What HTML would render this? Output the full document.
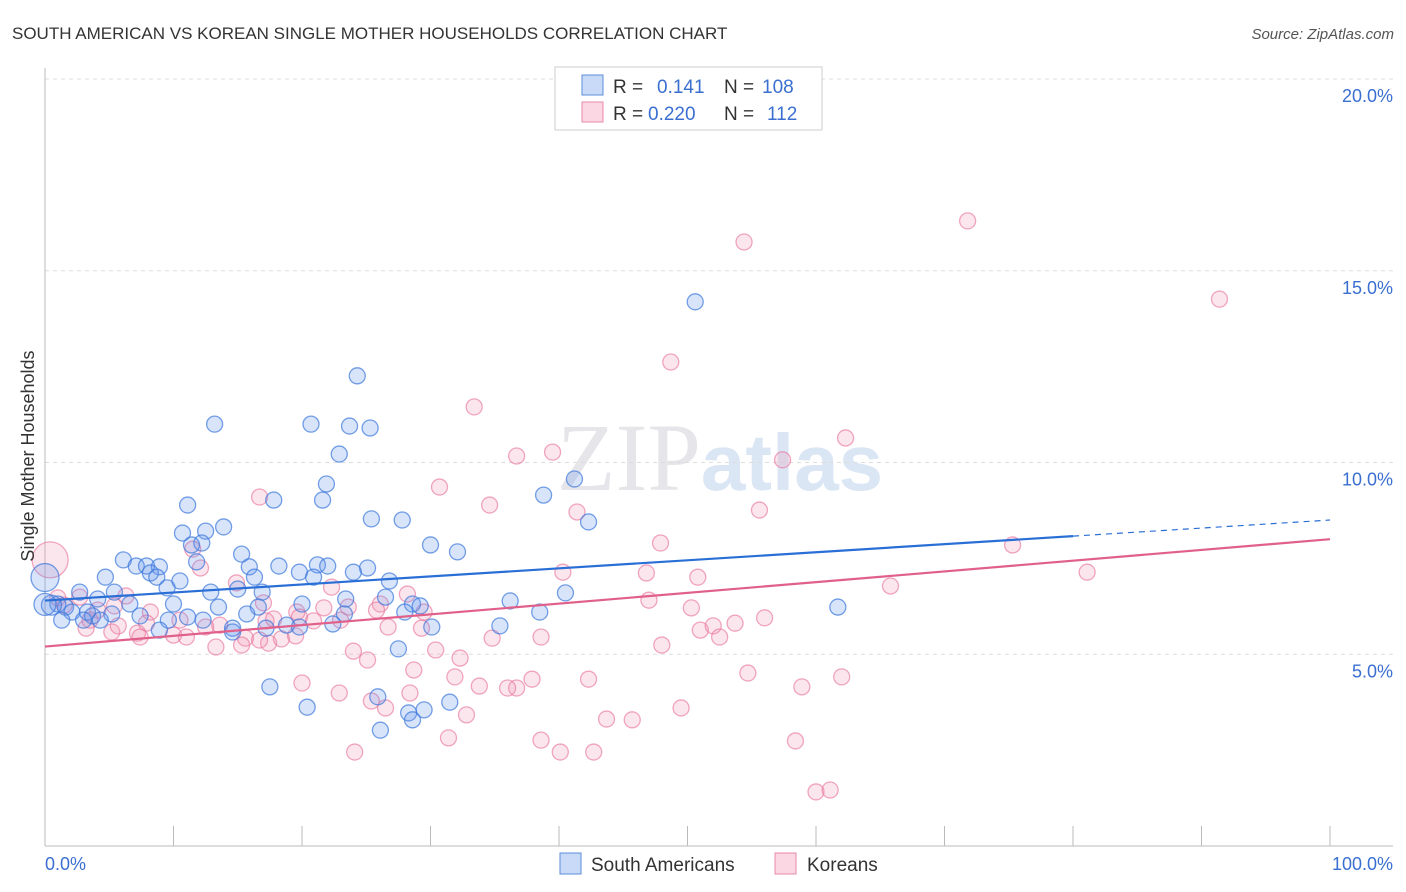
<!DOCTYPE html>
<html><head><meta charset="utf-8"><style>
body{margin:0;background:#fff;font-family:"Liberation Sans",sans-serif;}
svg{display:block}
</style></head><body>
<svg width="1406" height="892" xmlns="http://www.w3.org/2000/svg" font-family="Liberation Sans, sans-serif">
<text x="12" y="39" font-size="17" fill="#333">SOUTH AMERICAN VS KOREAN SINGLE MOTHER HOUSEHOLDS CORRELATION CHART</text>
<text x="1394" y="39" font-size="15" fill="#555" text-anchor="end" font-style="italic">Source: ZipAtlas.com</text>
<text x="720" y="490" font-size="96" text-anchor="middle" fill="#e6e6ea"><tspan font-family="Liberation Serif, serif">ZIP</tspan><tspan fill="#dbe6f5" font-weight="bold" font-size="80">atlas</tspan></text>
<g id="grid"></g>
<g id="axes"></g>
<g id="marks"></g>
<text transform="translate(34,456) rotate(-90)" font-size="18" fill="#333" text-anchor="middle">Single Mother Households</text>
<g>
<rect x="555" y="67" width="267" height="63" fill="#fff" stroke="#ccc"/>
<rect x="582" y="75" width="21" height="20" fill="rgba(100,149,237,0.35)" stroke="#5b8fd9"/>
<rect x="582" y="102" width="21" height="20" fill="rgba(240,140,175,0.35)" stroke="#e88aa8"/>
<text x="613" y="93" font-size="19" fill="#333">R = <tspan fill="#3a6fd1" x="657">0.141</tspan><tspan x="724">N = </tspan><tspan fill="#3a6fd1" x="762">108</tspan></text>
<text x="613" y="120" font-size="19" fill="#333">R = <tspan fill="#3a6fd1" x="648">0.220</tspan><tspan x="724">N = </tspan><tspan fill="#3a6fd1" x="767">112</tspan></text>
</g>
<g>
<rect x="560" y="853" width="21" height="21" fill="rgba(100,149,237,0.35)" stroke="#5b8fd9"/>
<text x="591" y="871" font-size="19" fill="#333">South Americans</text>
<rect x="775" y="853" width="21" height="21" fill="rgba(240,140,175,0.35)" stroke="#e88aa8"/>
<text x="807" y="871" font-size="19" fill="#333">Koreans</text>
</g>
</svg>
<script>
const yTicks=[5,10,15,20];
const yTickLabels=["5.0%","10.0%","15.0%","20.0%"];
const xTicks=[10,20,30,40,50,60,70,80,90,100];
const blueX=[50.6,24.3,13.2,20.7,23.7,25.3,22.9,21.9,11.1,17.8,21.6,38.8,41.2,25.4,27.8,42.3,13.9,10.7,12.5,12.2,11.4,30.0,32.1,15.3,6.1,7.1,7.9,8.9,15.9,18.2,21.2,22.0,25.1,11.8,4.7,8.2,8.7,10.5,16.3,19.8,20.9,24.0,26.8,2.7,5.4,9.5,12.9,15.0,16.9,4.1,6.6,10.0,13.5,16.6,20.0,23.4,26.5,28.6,29.2,36.2,40.5,61.7,1.0,1.6,2.1,3.3,3.7,5.2,7.4,11.1,15.7,23.3,28.0,38.5,1.3,3.0,4.3,9.6,12.3,14.6,17.2,18.8,19.8,22.4,30.1,35.4,14.6,8.9,17.5,20.4,25.9,28.3,29.5,31.5,26.1,28.6,27.5,0.5,0,0];
const blueY=[14.19,12.26,11.0,11.0,10.95,10.9,10.22,9.44,8.89,9.02,9.02,9.15,9.57,8.53,8.5,8.45,8.32,8.16,8.21,7.9,7.85,7.85,7.67,7.61,7.46,7.3,7.3,7.28,7.28,7.3,7.33,7.3,7.25,7.41,7.01,7.12,7.01,6.91,7.01,7.14,7.01,7.14,6.91,6.62,6.62,6.73,6.62,6.7,6.62,6.44,6.31,6.31,6.23,6.23,6.31,6.44,6.49,6.31,6.26,6.39,6.6,6.23,6.31,6.23,6.1,6.1,6.0,6.05,6.0,5.97,6.05,6.05,6.1,6.1,5.89,5.89,5.89,5.89,5.89,5.68,5.68,5.76,5.71,5.79,5.71,5.74,5.58,5.63,4.15,3.62,3.89,3.47,3.55,3.75,3.02,3.29,5.14,6.28,7.0,6.3];
const blueSize=[8,8,8,8,8,8,8,8,8,8,8,8,8,8,8,8,8,8,8,8,8,8,8,8,8,8,8,8,8,8,8,8,8,8,8,8,8,8,8,8,8,8,8,8,8,8,8,8,8,8,8,8,8,8,8,8,8,8,8,8,8,8,8,8,8,8,8,8,8,8,8,8,8,8,8,8,8,8,8,8,8,8,8,8,8,8,8,8,8,8,8,8,8,8,8,8,8,10,14,11];
const pinkX=[71.8,54.4,91.4,48.7,33.4,62.3,39.5,36.7,57.4,30.7,34.6,41.4,55.6,16.7,75.3,47.9,11.5,12.1,40.3,46.8,50.8,65.8,81.1,47.0,50.3,14.9,22.3,28.2,29.5,19.6,21.7,26.1,23.6,17.0,6.3,2.7,5.4,4.1,8.2,10.5,13.6,7.9,17.2,17.8,19.8,20.9,23.0,25.8,29.3,56.0,51.0,52.0,53.7,3.2,5.2,7.2,10.0,7.4,11.0,15.6,17.4,18.4,19.5,26.7,38.6,34.8,52.5,48.0,13.3,15.3,24.0,30.4,32.3,25.1,28.7,31.9,20.0,22.9,28.4,33.8,37.9,36.7,36.0,42.3,54.7,58.9,62.0,25.4,26.5,32.8,49.5,43.7,45.7,31.4,38.6,58.4,24.1,40.1,42.7,60.0,61.1,0.4,1.0,1.5,3.5,5.7,12.5,16.7];
const pinkY=[16.3,15.75,14.26,12.62,11.45,10.64,10.27,10.17,10.07,9.36,8.89,8.71,8.76,9.1,7.85,7.9,7.74,7.25,7.14,7.12,7.01,6.78,7.14,6.41,6.21,6.86,6.75,6.57,6.1,6.1,6.21,6.31,6.23,6.34,6.52,6.49,6.26,6.15,6.1,5.89,5.76,5.81,5.87,5.92,5.97,5.87,5.89,6.15,5.68,5.95,5.63,5.74,5.81,5.68,5.58,5.55,5.5,5.45,5.45,5.42,5.29,5.4,5.48,5.71,5.45,5.42,5.45,5.24,5.19,5.24,5.08,5.11,4.9,4.85,4.59,4.41,4.25,3.99,3.99,4.17,4.35,4.12,4.12,4.35,4.51,4.15,4.41,3.78,3.6,3.42,3.6,3.31,3.29,2.82,2.76,2.74,2.45,2.45,2.45,1.41,1.46,7.46,6.47,6.28,5.89,5.74,5.71,5.37];
const blueTrend=[6.4,8.5];
const pinkTrend=[5.2,8.0];
const NS='http://www.w3.org/2000/svg';
const X0=45,X1=1330,Y0=846,PY=38.35;
function sx(v){return X0+(X1-X0)*v/100;}
function sy(v){return Y0-v*PY;}
function mk(tag,attrs,parent){const e=document.createElementNS(NS,tag);for(const k in attrs)e.setAttribute(k,attrs[k]);parent.appendChild(e);return e;}
const grid=document.getElementById('grid'),axes=document.getElementById('axes'),marks=document.getElementById('marks');
yTicks.forEach((t,i)=>{
 const l=mk('line',{x1:X0,x2:1393,y1:sy(t),y2:sy(t),stroke:'#ddd','stroke-dasharray':'4,4'},grid);
 
 
 const tx=mk('text',{x:1393,y:sy(t)+23,'font-size':18,fill:'#3a6fd1','text-anchor':'end'},axes);
 tx.textContent=yTickLabels[i];
 
 
});
const ya=mk('line',{x1:X0,x2:X0,y1:68,y2:Y0,stroke:'#bbb'},axes);


const xa=mk('line',{x1:X0,x2:1393,y1:Y0,y2:Y0,stroke:'#bbb'},axes);


xTicks.forEach(t=>{
 const l=mk('line',{x1:sx(t),x2:sx(t),y1:826,y2:Y0,stroke:'#bbb'},axes);
 
 
});
const xl0=mk('text',{x:45,y:870,'font-size':18,fill:'#3a6fd1'},axes);xl0.textContent='0.0%';


const xl1=mk('text',{x:1393,y:870,'font-size':18,fill:'#3a6fd1','text-anchor':'end'},axes);xl1.textContent='100.0%';


pinkX.forEach((v,i)=>{
 const c=mk('circle',{cx:sx(v),cy:sy(pinkY[i]),r:(i>=101&&i==101)?18:8,fill:'rgba(240,140,175,0.22)',stroke:'rgba(232,120,160,0.65)','stroke-width':1.3},marks);
 
 
});
blueX.forEach((v,i)=>{
 const c=mk('circle',{cx:sx(v),cy:sy(blueY[i]),r:blueSize[i],fill:'rgba(100,149,237,0.25)',stroke:'rgba(60,120,220,0.7)','stroke-width':1.3},marks);
 
 
});
const bEnd=80;
const bt=mk('line',{x1:sx(0),y1:sy(blueTrend[0]),x2:sx(bEnd),y2:sy(blueTrend[0]+(blueTrend[1]-blueTrend[0])*bEnd/100),stroke:'#2a6fd6','stroke-width':2.2},marks);


const bd=mk('line',{x1:sx(bEnd),y1:sy(blueTrend[0]+(blueTrend[1]-blueTrend[0])*bEnd/100),x2:sx(100),y2:sy(blueTrend[1]),stroke:'#2a6fd6','stroke-width':1.2,'stroke-dasharray':'6,5'},marks);


const pt=mk('line',{x1:sx(0),y1:sy(pinkTrend[0]),x2:sx(100),y2:sy(pinkTrend[1]),stroke:'#e0608a','stroke-width':2.2},marks);


</script>
</body></html>
